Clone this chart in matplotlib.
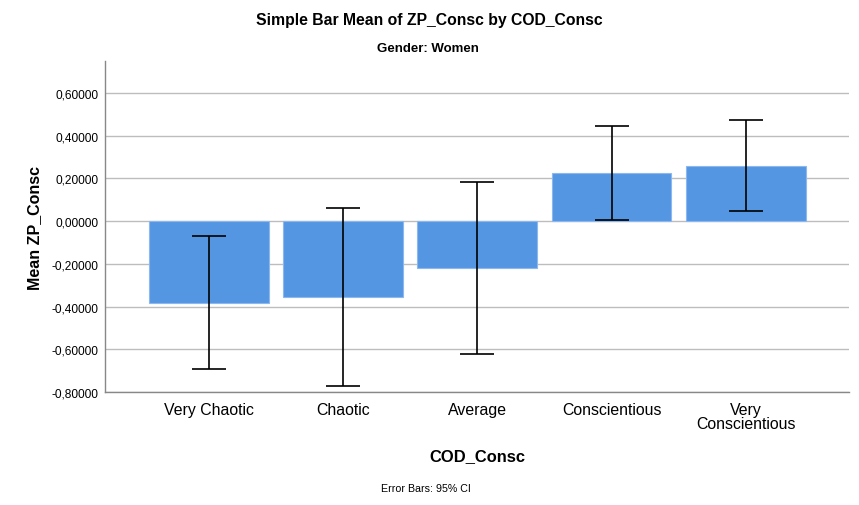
import matplotlib
matplotlib.use("Agg")
import matplotlib.pyplot as plt
import numpy as np

categories = ["Very Chaotic", "Chaotic", "Average", "Conscientious", "Very\nConscientious"]
means = [-0.381, -0.355, -0.217, 0.224, 0.259]
ci_low = [-0.690, -0.772, -0.620, 0.006, 0.047]
ci_high = [-0.070, 0.061, 0.184, 0.444, 0.475]
yticks = [-0.8, -0.6, -0.4, -0.2, 0.0, 0.2, 0.4, 0.6]

plt.rcParams['font.family'] = ['Liberation Sans', 'DejaVu Sans']

fig = plt.figure(figsize=(8.59, 5.06), dpi=100)
W, H = 859, 506
ax = fig.add_axes([105 / W, 1 - 393 / H, (849 - 105) / W, (393 - 62) / H])

x = np.arange(len(categories))
means_a = np.array(means)
lo = means_a - np.array(ci_low)
hi = np.array(ci_high) - means_a
ax.bar(x, means, width=0.894, color="#5596E3", edgecolor="#8DB8EE", linewidth=0.8, zorder=2)
ax.errorbar(x, means, yerr=[lo, hi], fmt='none', ecolor='black', elinewidth=1.2,
            capsize=12, capthick=1.2, zorder=3)

ax.set_xlim(-0.775, 4.77)
ax.set_ylim(-0.8, 0.75)
ax.set_yticks(yticks)
ax.set_yticklabels([f"{v:.5f}".replace(".", ",") for v in yticks], fontsize=8.6)
ax.set_xticks(x)
ax.set_xticklabels(categories, fontsize=11.4, linespacing=0.95)
ax.tick_params(axis='both', length=0, pad=5)
ax.tick_params(axis='x', pad=7)
ax.yaxis.grid(True, color="#BDBDBD", linewidth=1.0, zorder=0)
ax.set_axisbelow(True)
for s in ['top', 'right']:
    ax.spines[s].set_visible(False)
for s in ['left', 'bottom']:
    ax.spines[s].set_color("#888888")
    ax.spines[s].set_linewidth(1.0)

fig.text(0.5, 1 - 20 / H, "Simple Bar Mean of ZP_Consc by COD_Consc", ha='center', va='center',
         fontsize=11.3, fontweight='bold')
fig.text(428 / W, 1 - 49 / H, "Gender: Women", ha='center', va='center', fontsize=9.5, fontweight='bold')
fig.text(35 / W, 1 - 228 / H, "Mean ZP_Consc", ha='center', va='center', rotation=90,
         fontsize=11.5, fontweight='bold')
fig.text(477 / W, 1 - 457 / H, "COD_Consc", ha='center', va='center', fontsize=11.9, fontweight='bold')
fig.text(426 / W, 1 - 489 / H, "Error Bars: 95% CI", ha='center', va='center', fontsize=7.7)

fig.savefig("out.png", dpi=100)
